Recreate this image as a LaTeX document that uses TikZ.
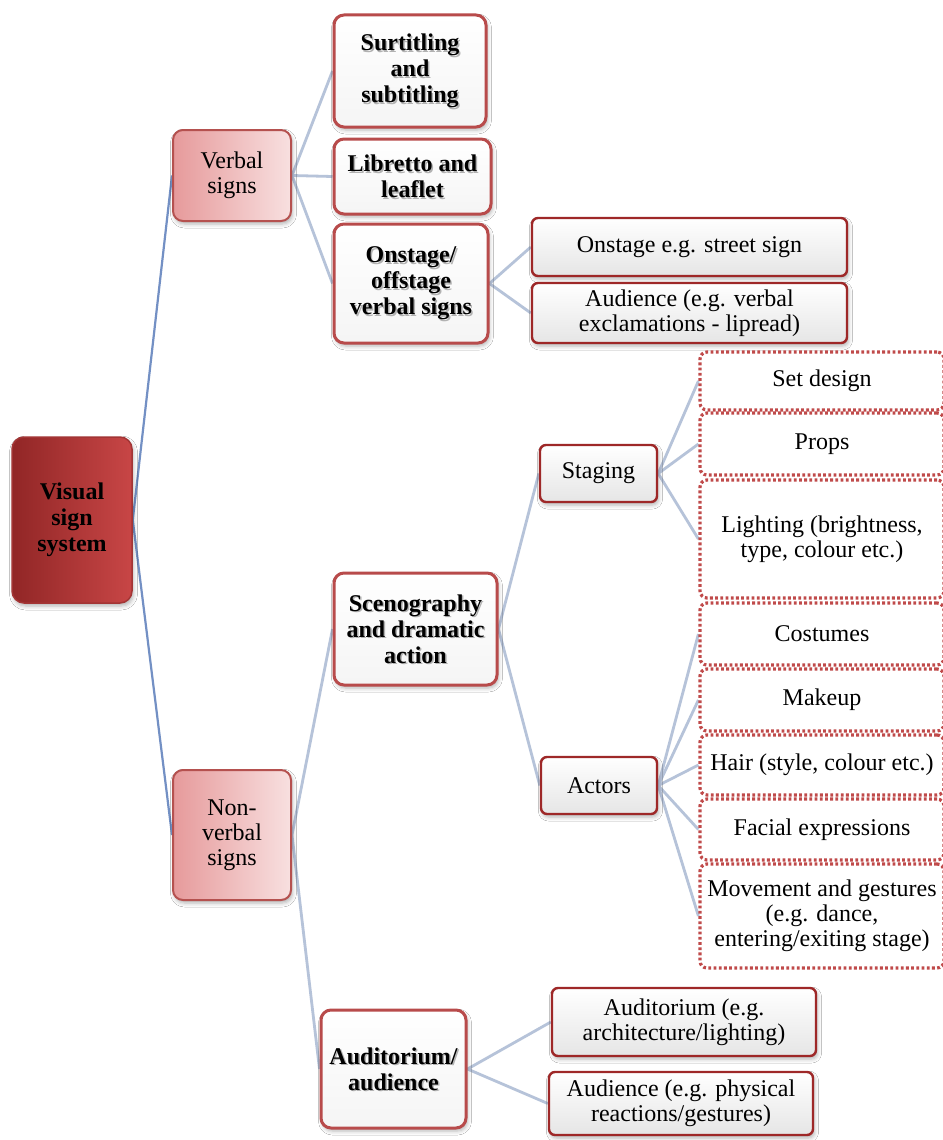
\documentclass[tikz,border=0pt]{standalone}
\usepackage{fontspec}
\setmainfont{LiberationSerif-Regular.ttf}[BoldFont=LiberationSerif-Bold.ttf]
\usetikzlibrary{shadows.blur,backgrounds}

\definecolor{rootA}{HTML}{912626}
\definecolor{rootB}{HTML}{C84646}
\definecolor{rootLine}{HTML}{A33535}
\definecolor{pinkA}{HTML}{E69A9B}
\definecolor{pinkB}{HTML}{F8E0E0}
\definecolor{pinkLine}{HTML}{B5514F}
\definecolor{boxLine}{HTML}{B84B4B}
\definecolor{leafLine}{HTML}{9E2828}
\definecolor{dotLine}{HTML}{C04A4A}
\definecolor{linkA}{HTML}{7390C4}
\definecolor{linkB}{HTML}{B6C3D9}

\tikzset{
  base/.style={align=center, inner sep=2pt, text=black,
    font=\fontsize{24}{25}\selectfont},
  softshadow/.style={blur shadow={shadow xshift=1.5pt, shadow yshift=-3pt,
    shadow blur radius=4pt, shadow opacity=30}},
  tshadow/.style={path picture={
    \node[align=center, text=black!30, font=\bfseries\fontsize{24}{26}\selectfont]
      at ([xshift=1.5pt,yshift=-1.5pt]path picture bounding box.center) {#1};}},
  rootbox/.style={base, rounded corners=12pt, draw=rootLine, line width=1.5pt,
    left color=rootA, right color=rootB, softshadow,
    font=\bfseries\fontsize{24}{26}\selectfont},
  lvlbox/.style={base, rounded corners=10pt, draw=pinkLine, line width=2pt,
    left color=pinkA, right color=pinkB, softshadow},
  boldbox/.style={base, rounded corners=10pt, draw=boxLine, line width=3pt,
    top color=white, bottom color=black!4, softshadow,
    font=\bfseries\fontsize{24}{26}\selectfont},
  leafbox/.style={base, rounded corners=6pt, draw=leafLine, line width=2.4pt,
    top color=white, bottom color=black!10, softshadow},
  dotbox/.style={base, rounded corners=7pt, draw=dotLine, line width=3.2pt,
    dash pattern=on 2.8pt off 2.4pt, fill=white, minimum width=244pt},
  link1/.style={draw=linkA, line width=2.2pt},
  link2/.style={draw=linkB, line width=2.8pt},
}

\begin{document}
\begin{tikzpicture}[x=1pt, y=-1pt]
\useasboundingbox (0,0) rectangle (942,1140);

% root
\node[rootbox, minimum width=120pt, minimum height=166pt] (vis) at (72,520) {Visual\\sign\\system};

% first level
\node[lvlbox, minimum width=118pt, minimum height=91pt] (verb) at (232,175.5) {Verbal\\signs};
\node[lvlbox, minimum width=118pt, minimum height=130pt] (nonv) at (232,835) {Non-\\verbal\\signs};

% second level
\node[boldbox, minimum width=152pt, minimum height=112pt,
  tshadow={Surtitling\\and\\subtitling}] (surt) at (410,71) {Surtitling\\and\\subtitling};
\node[boldbox, minimum width=157pt, minimum height=75pt,
  tshadow={Libretto and\\leaflet}] (lib) at (412.5,176.5) {Libretto and\\leaflet};
\node[boldbox, minimum width=154pt, minimum height=119pt,
  tshadow={Onstage/\\offstage\\verbal signs}] (onoff) at (411,283.5) {Onstage/\\offstage\\verbal signs};
\node[boldbox, minimum width=163pt, minimum height=112pt,
  tshadow={Scenography\\and dramatic\\action}] (scen) at (415.5,629) {Scenography\\and dramatic\\action};
\node[boldbox, minimum width=145pt, minimum height=118pt,
  tshadow={Auditorium/\\audience}] (audi) at (393.5,1069) {Auditorium/\\audience};

% third level
\node[leafbox, minimum width=315pt, minimum height=58pt] (onst) at (689.5,247) {Onstage e.g. street sign};
\node[leafbox, minimum width=315pt, minimum height=60pt] (audv) at (689.5,313) {Audience (e.g. verbal\\exclamations - lipread)};
\node[leafbox, minimum width=117pt, minimum height=57pt] (stag) at (598.5,473.5) {Staging};
\node[leafbox, minimum width=116pt, minimum height=57pt] (act) at (599,785.5) {Actors};
\node[leafbox, minimum width=264pt, minimum height=68pt] (aude) at (684,1022) {Auditorium (e.g.\\architecture/lighting)};
\node[leafbox, minimum width=264pt, minimum height=63pt] (audp) at (681,1103.5) {Audience (e.g. physical\\reactions/gestures)};

% dotted leaves
\node[dotbox, minimum height=58pt] (set) at (822,381) {Set design};
\node[dotbox, minimum height=62pt] (props) at (822,444) {Props};
\node[dotbox, minimum height=118pt] (light) at (822,539) {Lighting (brightness,\\type, colour etc.)};
\node[dotbox, minimum height=62pt] (cost) at (822,634) {Costumes};
\node[dotbox, minimum height=62pt] (make) at (822,700) {Makeup};
\node[dotbox, minimum height=60pt] (hair) at (822,765) {Hair (style, colour etc.)};
\node[dotbox, minimum height=61pt] (face) at (822,829.5) {Facial expressions};
\node[dotbox, minimum height=104pt] (move) at (822,916) {Movement and gestures\\(e.g. dance,\\entering/exiting stage)};

% connectors behind the boxes
\begin{scope}[on background layer]
\fill[white] (0,0) rectangle (942,1140);
\draw[link1] (vis.east) -- (verb.west);
\draw[link1] (vis.east) -- (nonv.west);
\draw[link2] (verb.east) -- (surt.west);
\draw[link2] (verb.east) -- (lib.west);
\draw[link2] (verb.east) -- (onoff.west);
\draw[link2] (onoff.east) -- (onst.west);
\draw[link2] (onoff.east) -- (audv.west);
\draw[link2] (nonv.east) -- (scen.west);
\draw[link2] (nonv.east) -- (audi.west);
\draw[link2] (scen.east) -- (stag.west);
\draw[link2] (scen.east) -- (act.west);
\draw[link2] (stag.east) -- (set.west);
\draw[link2] (stag.east) -- (props.west);
\draw[link2] (stag.east) -- (light.west);
\draw[link2] (act.east) -- (cost.west);
\draw[link2] (act.east) -- (make.west);
\draw[link2] (act.east) -- (hair.west);
\draw[link2] (act.east) -- (face.west);
\draw[link2] (act.east) -- (move.west);
\draw[link2] (audi.east) -- (aude.west);
\draw[link2] (audi.east) -- (audp.west);
\end{scope}
\end{tikzpicture}
\end{document}
